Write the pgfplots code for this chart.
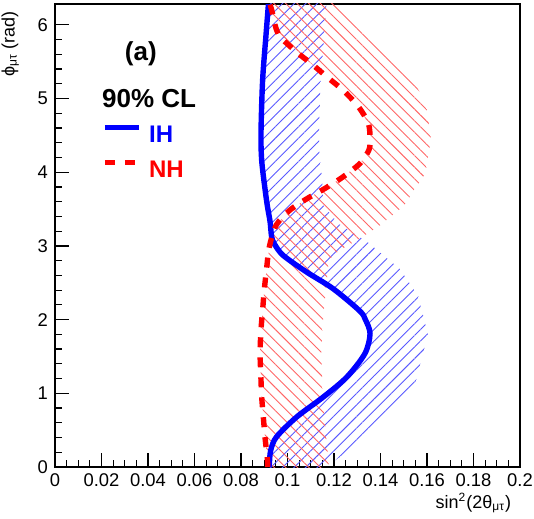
\documentclass[border=0pt]{standalone}
\usepackage{fontspec}
\setmainfont{Liberation Sans}
\usepackage{pgfplots}
\pgfplotsset{compat=1.18}
\usetikzlibrary{patterns.meta}

% IH contour (blue) and NH contour (red), x = sin^2(2theta), y = phi
\pgfplotstableread{
x y
0.0920 0.00
0.0922 0.05
0.0928 0.23
0.0953 0.41
0.1040 0.68
0.1154 0.95
0.1255 1.22
0.1333 1.54
0.1355 1.81
0.1335 2.00
0.1310 2.12
0.1196 2.42
0.1080 2.65
0.0982 2.87
0.0945 3.02
0.0932 3.12
0.0925 3.33
0.0913 3.55
0.0903 3.78
0.0889 4.16
0.0886 4.53
0.0893 5.25
0.0908 5.88
0.0918 6.28
}\ih

\pgfplotstableread{
x y
0.0915 0.00
0.0913 0.12
0.0903 0.41
0.0896 0.68
0.0889 0.95
0.0885 1.27
0.0882 1.55
0.0886 1.86
0.0893 2.13
0.0900 2.40
0.0910 2.69
0.0922 2.99
0.0951 3.28
0.1008 3.48
0.1083 3.64
0.1161 3.78
0.1240 3.94
0.1312 4.12
0.1350 4.30
0.1355 4.45
0.1348 4.66
0.1305 4.89
0.1240 5.11
0.1171 5.29
0.1104 5.47
0.1032 5.65
0.0960 5.88
0.0932 6.20
0.0925 6.28
}\nh

\begin{document}
\begin{tikzpicture}
\begin{axis}[
  scale only axis, width=232.5pt, height=231.5pt,
  xmin=0, xmax=0.2, ymin=0, ymax=6.2832,
  xtick={0,0.02,0.04,0.06,0.08,0.1,0.12,0.14,0.16,0.18,0.2},
  xticklabels={0,0.02,0.04,0.06,0.08,0.1,0.12,0.14,0.16,0.18,0.2},
  ytick={0,1,2,3,4,5,6},
  minor x tick num=3, minor y tick num=4,
  tick pos=left, tick align=inside,
  major tick length=6.8pt, minor tick length=3.5pt,
  every tick/.style={black, line width=0.6pt},
  axis line style={line width=0.8pt},
  /pgf/number format/assume math mode=true,
  ticklabel style={font=\fontsize{9.2}{11}\selectfont},
  label style={font=\fontsize{9}{10}\selectfont},
  xlabel={sin\textsuperscript{2}(2θ\textsubscript{μτ})},
  xlabel style={at={(axis description cs:0.996,-0.09)}, anchor=base east},
  ylabel={ϕ\textsubscript{μτ} (rad)},
  ylabel style={at={(axis description cs:-0.0624,1)}, anchor=south east},
  legend style={draw=none, fill=none, at={(axis description cs:0.1004,0.7397)},
    anchor=north west, inner sep=0pt, row sep=8.8pt, /tikz/column sep=3.6pt,
    font=\fontsize{12}{14}\bfseries\selectfont,
    nodes={inner sep=0pt, text height=8.6pt, text depth=0pt}},
  legend cell align=left,
  legend image code/.code={\draw[#1] (0pt,3.1pt) -- (17.2pt,3.1pt);},
]
\coordinate (LL) at (rel axis cs:0,0);
\coordinate (UR) at (rel axis cs:1,1);

% hatched bands on the excluded side of each contour
\addplot[forget plot, draw=none,
  pattern={Lines[angle=45,distance=4.1pt,line width=0.45pt]}, pattern color=blue!65]
  coordinates {(0.0920,-0.05) (0.0920,0.00) (0.0922,0.05) (0.0928,0.23) (0.0953,0.41)
  (0.1040,0.68) (0.1154,0.95) (0.1255,1.22) (0.1333,1.54) (0.1355,1.81) (0.1335,2.00)
  (0.1310,2.12) (0.1196,2.42) (0.1080,2.65) (0.0982,2.87) (0.0945,3.02) (0.0932,3.12)
  (0.0925,3.33) (0.0913,3.55) (0.0903,3.78) (0.0889,4.16) (0.0886,4.53) (0.0893,5.25)
  (0.0908,5.88) (0.0918,6.28) (0.0919,6.44)
  (0.1170,6.441) (0.1166,6.220) (0.1157,5.821) (0.1142,5.210) (0.1135,4.522)
  (0.1138,4.216) (0.1150,3.877) (0.1153,3.553) (0.1218,3.304) (0.1343,3.056)
  (0.1483,2.687) (0.1562,2.325) (0.1604,1.798) (0.1553,1.170) (0.1435,0.677)
  (0.1309,0.335) (0.1202,0.083) (0.1169,0.024) (0.1168,-0.087)} -- cycle;

\addplot[forget plot, draw=none,
  pattern={Lines[angle=-45,distance=4.1pt,line width=0.45pt]}, pattern color=red!60]
  coordinates {(0.0915,-0.05) (0.0915,0.00) (0.0913,0.12) (0.0903,0.41) (0.0896,0.68)
  (0.0889,0.95) (0.0885,1.27) (0.0882,1.55) (0.0886,1.86) (0.0893,2.13) (0.0900,2.40)
  (0.0910,2.69) (0.0922,2.99) (0.0951,3.28) (0.1008,3.48) (0.1083,3.64) (0.1161,3.78)
  (0.1240,3.94) (0.1312,4.12) (0.1350,4.30) (0.1355,4.45) (0.1348,4.66) (0.1305,4.89)
  (0.1240,5.11) (0.1171,5.29) (0.1104,5.47) (0.1032,5.65) (0.0960,5.88) (0.0932,6.20)
  (0.0925,6.28) (0.0922,6.44)
  (0.1187,6.441) (0.1208,6.263) (0.1271,6.110) (0.1340,5.924) (0.1421,5.710)
  (0.1514,5.388) (0.1595,4.940) (0.1617,4.450) (0.1593,3.985) (0.1501,3.546)
  (0.1393,3.268) (0.1297,3.073) (0.1222,2.938) (0.1178,2.814) (0.1171,2.594)
  (0.1154,2.061) (0.1145,1.546) (0.1151,0.998) (0.1164,0.489) (0.1177,0.050)
  (0.1177,-0.068)} -- cycle;

\addplot[blue, line width=2.7pt, smooth] table {\ih};
\addlegendentry[text=blue]{IH}
\addplot[red, line width=2.7pt, dash pattern=on 5pt off 5pt, smooth] table {\nh};
\addlegendentry[text=red]{NH}

\node[font=\fontsize{13}{15}\bfseries\selectfont] at (axis description cs:0.1845,0.8916) {(a)};
\node[anchor=base west, inner sep=0pt, font=\fontsize{13}{15}\bfseries\selectfont]
  at (axis description cs:0.1004,0.7769) {90\% CL};
\end{axis}
\pgfresetboundingbox
\path[use as bounding box] ([shift={(-27.5pt,-25.5pt)}]LL) rectangle ([shift={(7pt,2pt)}]UR);
\end{tikzpicture}
\end{document}
